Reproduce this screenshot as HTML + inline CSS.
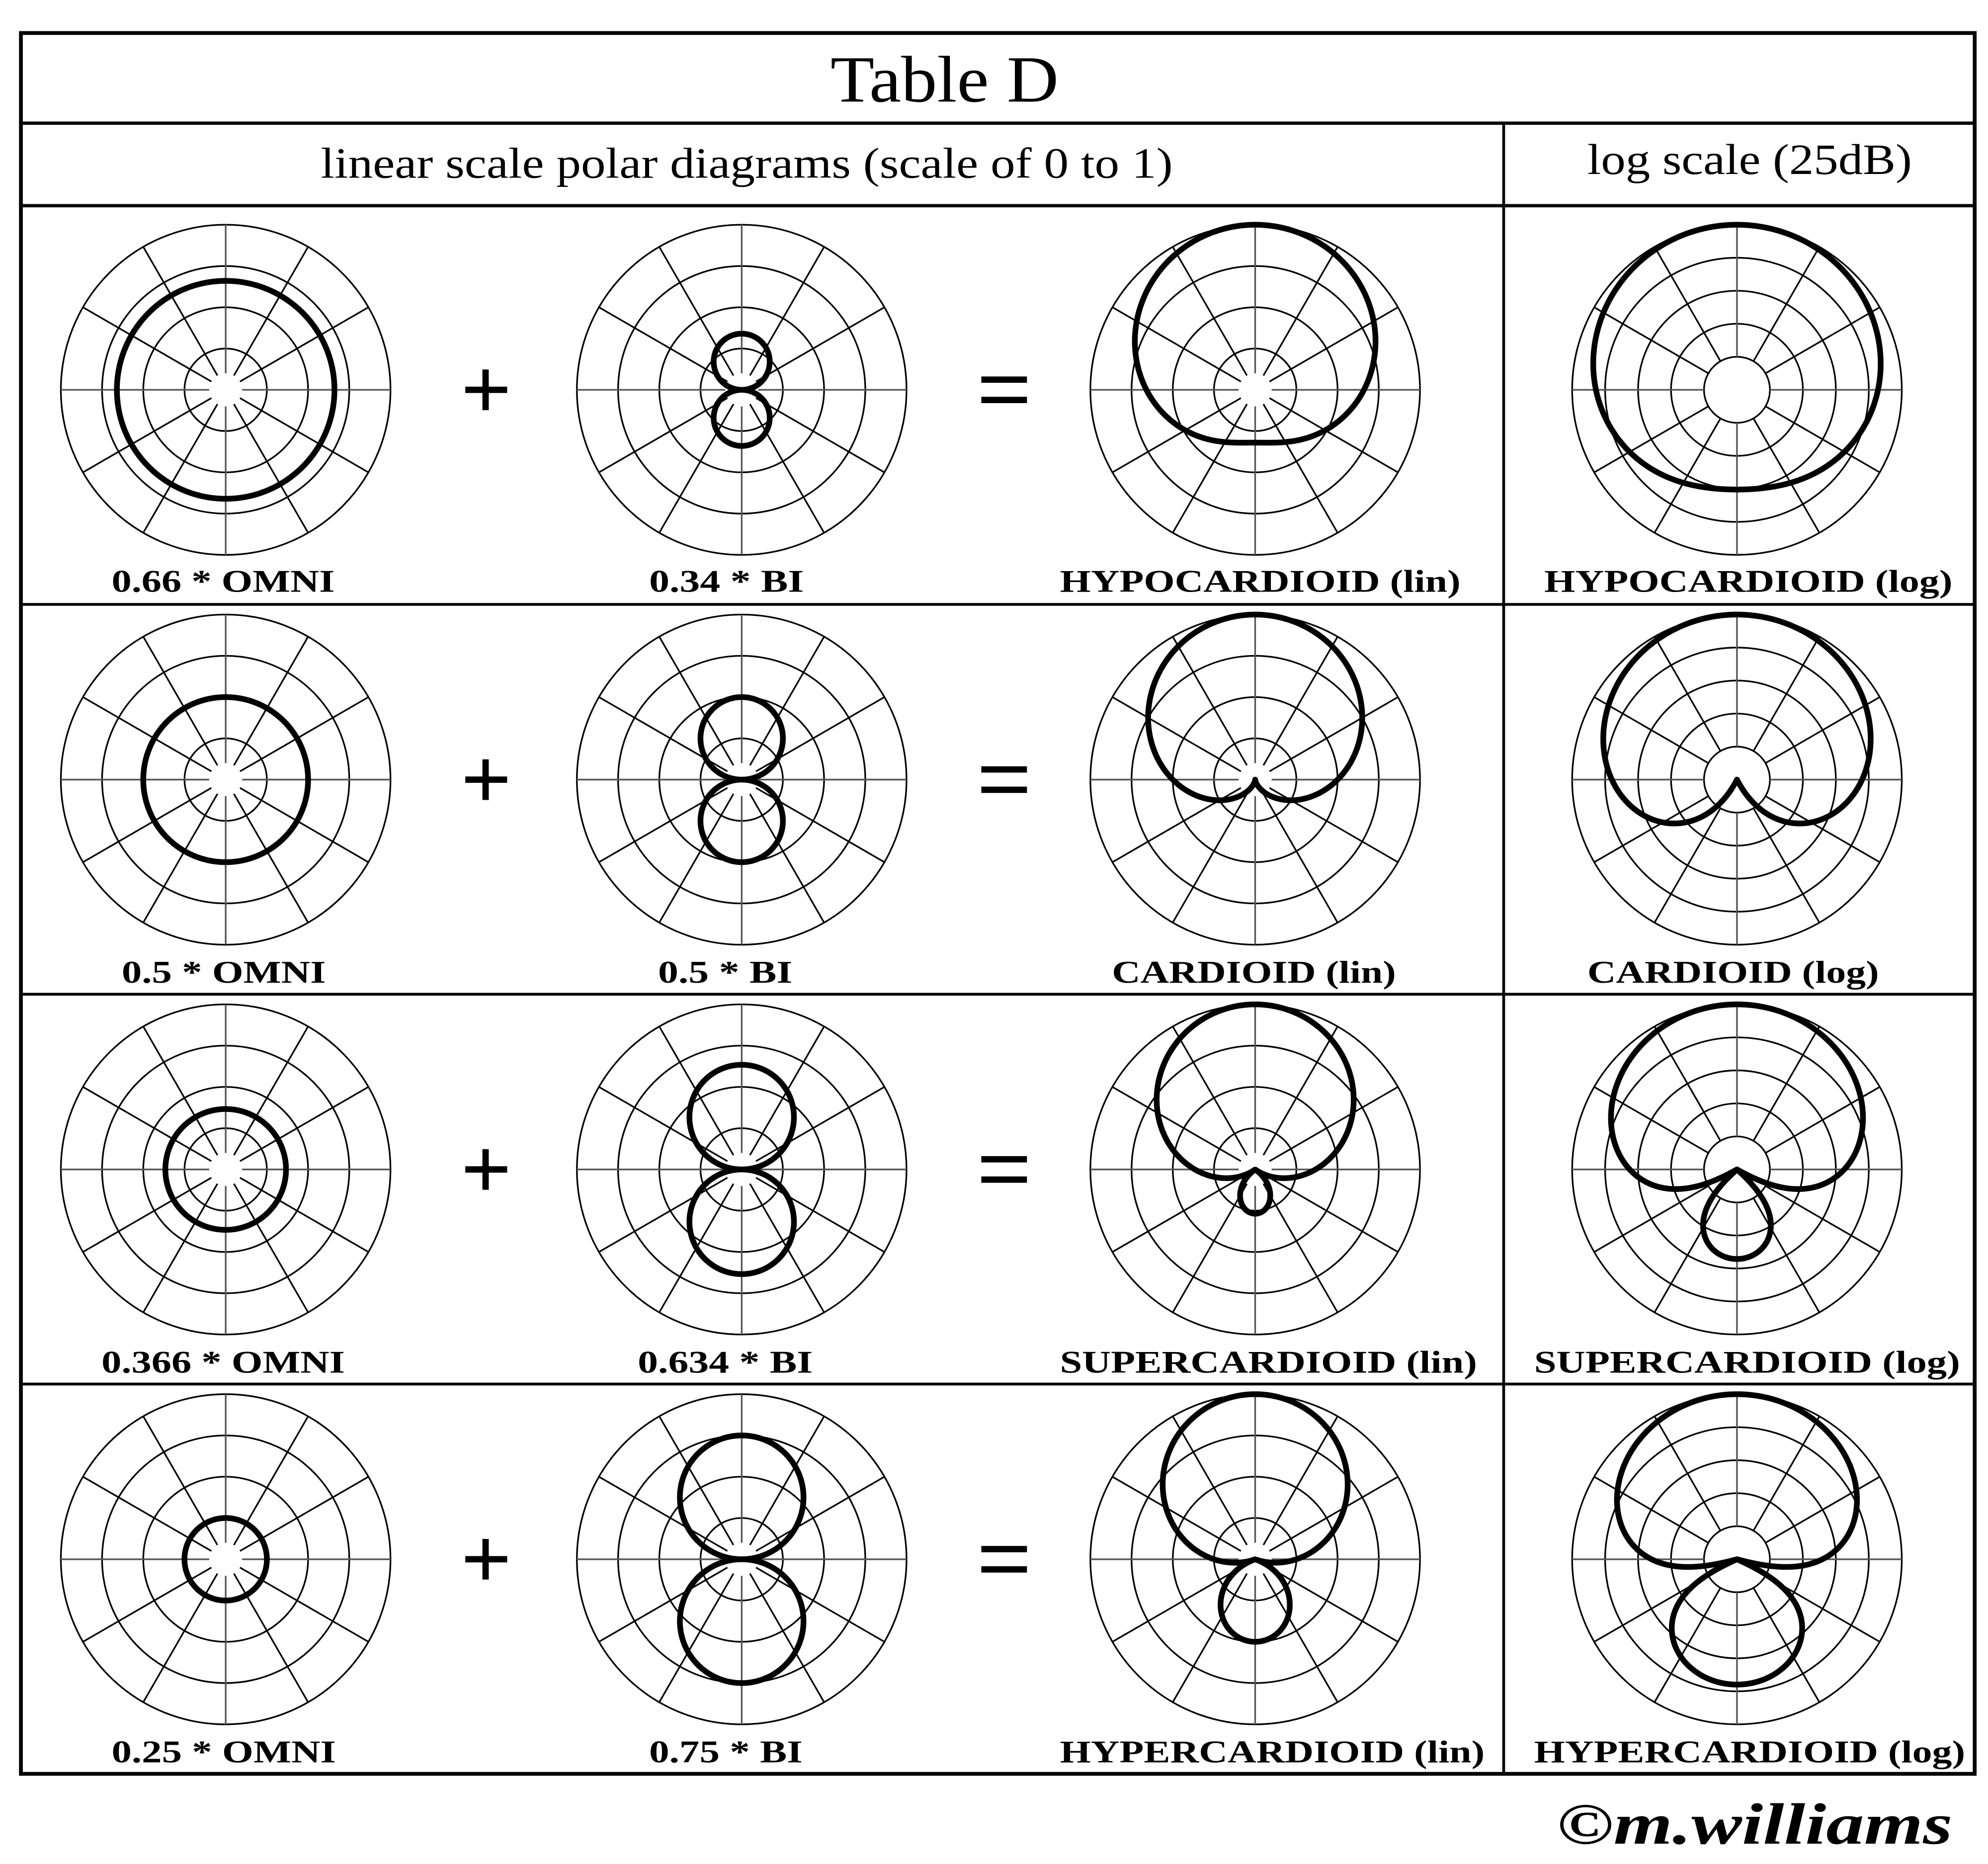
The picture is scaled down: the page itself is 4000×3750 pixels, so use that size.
<!DOCTYPE html>
<html><head><meta charset="utf-8">
<style>
html,body{margin:0;padding:0;background:#fff;}
svg{display:block;}
.t{font-family:"Liberation Serif",serif;fill:#000;}
.lb{font-family:"Liberation Serif",serif;font-weight:bold;font-size:25px;fill:#000;}
</style></head>
<body>
<svg id="s" width="4000" height="3750" viewBox="0 0 1568 1468" preserveAspectRatio="none" xmlns="http://www.w3.org/2000/svg">
<rect width="1568" height="1468" fill="#fff"/>
<g id="grids"></g>
<g id="pats"></g>
<g stroke="#000" fill="none">
<rect x="16.5" y="26" width="1541" height="1371" stroke-width="3"/>
<line x1="16" y1="97" x2="1558" y2="97" stroke-width="2.6"/>
<line x1="16" y1="162" x2="1558" y2="162" stroke-width="2.6"/>
<line x1="16" y1="476" x2="1558" y2="476" stroke-width="2.2"/>
<line x1="16" y1="783" x2="1558" y2="783" stroke-width="2.2"/>
<line x1="16" y1="1090" x2="1558" y2="1090" stroke-width="2.2"/>
<line x1="1186" y1="97" x2="1186" y2="1397" stroke-width="2.2"/>
</g>
<text class="t" x="745" y="80" font-size="52" text-anchor="middle" textLength="180" lengthAdjust="spacingAndGlyphs">Table D</text>
<text class="t" x="589" y="140" font-size="34" text-anchor="middle" textLength="672" lengthAdjust="spacingAndGlyphs">linear scale polar diagrams (scale of 0 to 1)</text>
<text class="t" x="1380" y="137" font-size="34" text-anchor="middle" textLength="256" lengthAdjust="spacingAndGlyphs">log scale (25dB)</text>

<text class="lb" x="88" y="466" textLength="176" lengthAdjust="spacingAndGlyphs">0.66 * OMNI</text>
<text class="lb" x="512" y="466" textLength="122" lengthAdjust="spacingAndGlyphs">0.34 * BI</text>
<text class="lb" x="836" y="466" textLength="316" lengthAdjust="spacingAndGlyphs">HYPOCARDIOID (lin)</text>
<text class="lb" x="1218" y="466" textLength="322" lengthAdjust="spacingAndGlyphs">HYPOCARDIOID (log)</text>

<text class="lb" x="96" y="774" textLength="161" lengthAdjust="spacingAndGlyphs">0.5 * OMNI</text>
<text class="lb" x="519" y="774" textLength="106" lengthAdjust="spacingAndGlyphs">0.5 * BI</text>
<text class="lb" x="877" y="774" textLength="224" lengthAdjust="spacingAndGlyphs">CARDIOID (lin)</text>
<text class="lb" x="1252" y="774" textLength="230" lengthAdjust="spacingAndGlyphs">CARDIOID (log)</text>

<text class="lb" x="80" y="1081" textLength="192" lengthAdjust="spacingAndGlyphs">0.366 * OMNI</text>
<text class="lb" x="503" y="1081" textLength="138" lengthAdjust="spacingAndGlyphs">0.634 * BI</text>
<text class="lb" x="836" y="1081" textLength="329" lengthAdjust="spacingAndGlyphs">SUPERCARDIOID (lin)</text>
<text class="lb" x="1210" y="1081" textLength="336" lengthAdjust="spacingAndGlyphs">SUPERCARDIOID (log)</text>

<text class="lb" x="88" y="1388" textLength="177" lengthAdjust="spacingAndGlyphs">0.25 * OMNI</text>
<text class="lb" x="512" y="1388" textLength="121" lengthAdjust="spacingAndGlyphs">0.75 * BI</text>
<text class="lb" x="836" y="1388" textLength="335" lengthAdjust="spacingAndGlyphs">HYPERCARDIOID (lin)</text>
<text class="lb" x="1210" y="1388" textLength="340" lengthAdjust="spacingAndGlyphs">HYPERCARDIOID (log)</text>

<text class="t" x="1228" y="1452" font-size="46" font-style="italic" font-weight="bold" textLength="312" lengthAdjust="spacingAndGlyphs">©m.williams</text>
<g id="ops" stroke="#000" stroke-width="5"></g>
</svg>
<script>
(function(){
var NS="http://www.w3.org/2000/svg";
var G=document.getElementById('grids'),P=document.getElementById('pats'),O=document.getElementById('ops');
function el(p,t,a){var e=document.createElementNS(NS,t);for(var k in a)e.setAttribute(k,a[k]);p.appendChild(e);return e;}
var R=130, xs=[178,585,990,1370], ys=[307,614,921,1228];
var rows=[[0.66,0.34],[0.5,0.5],[0.366,0.634],[0.25,0.75]];
function grid(cx,cy,log){
  var rings=log?[0.2,0.4,0.6,0.8,1]:[0.25,0.5,0.75,1];
  rings.forEach(function(f){el(G,'circle',{cx:cx,cy:cy,r:R*f,fill:'none',stroke:'#000','stroke-width':1.3});});
  var r0=log?0.2:0.1;
  for(var i=0;i<12;i++){var a=i*Math.PI/6;var s=Math.sin(a),c=Math.cos(a);
    var grey=(i%3==0);
    el(G,'line',{x1:cx+s*R*r0,y1:cy-c*R*r0,x2:cx+s*R,y2:cy-c*R,stroke:grey?'#555':'#000','stroke-width':1.3});}
}
function path(cx,cy,f){
  var d='';for(var i=0;i<=720;i++){var t=i/720*2*Math.PI;var r=f(t)*R;
    d+=(i?'L':'M')+(cx+Math.sin(t)*r).toFixed(2)+','+(cy-Math.cos(t)*r).toFixed(2);}
  el(P,'path',{d:d+'Z',fill:'none',stroke:'#000','stroke-width':4.5,'stroke-linejoin':'round'});
}
rows.forEach(function(ab,j){
  var a=ab[0],b=ab[1],cy=ys[j];
  for(var k=0;k<4;k++)grid(xs[k],cy,k==3);
  path(xs[0],cy,function(t){return a;});
  path(xs[1],cy,function(t){return Math.abs(b*Math.cos(t));});
  path(xs[2],cy,function(t){return Math.abs(a+b*Math.cos(t));});
  path(xs[3],cy,function(t){var v=Math.abs(a+b*Math.cos(t));if(v<1e-6)return 0;var db=20*Math.log10(v);return Math.max(0,(25+db)/25);});
  el(O,'line',{x1:367,y1:cy,x2:400,y2:cy});
  el(O,'line',{x1:383,y1:cy-16,x2:383,y2:cy+16});
  el(O,'line',{x1:774,y1:cy-8,x2:810,y2:cy-8});
  el(O,'line',{x1:774,y1:cy+8,x2:810,y2:cy+8});
});
})();
</script>
</body></html>
